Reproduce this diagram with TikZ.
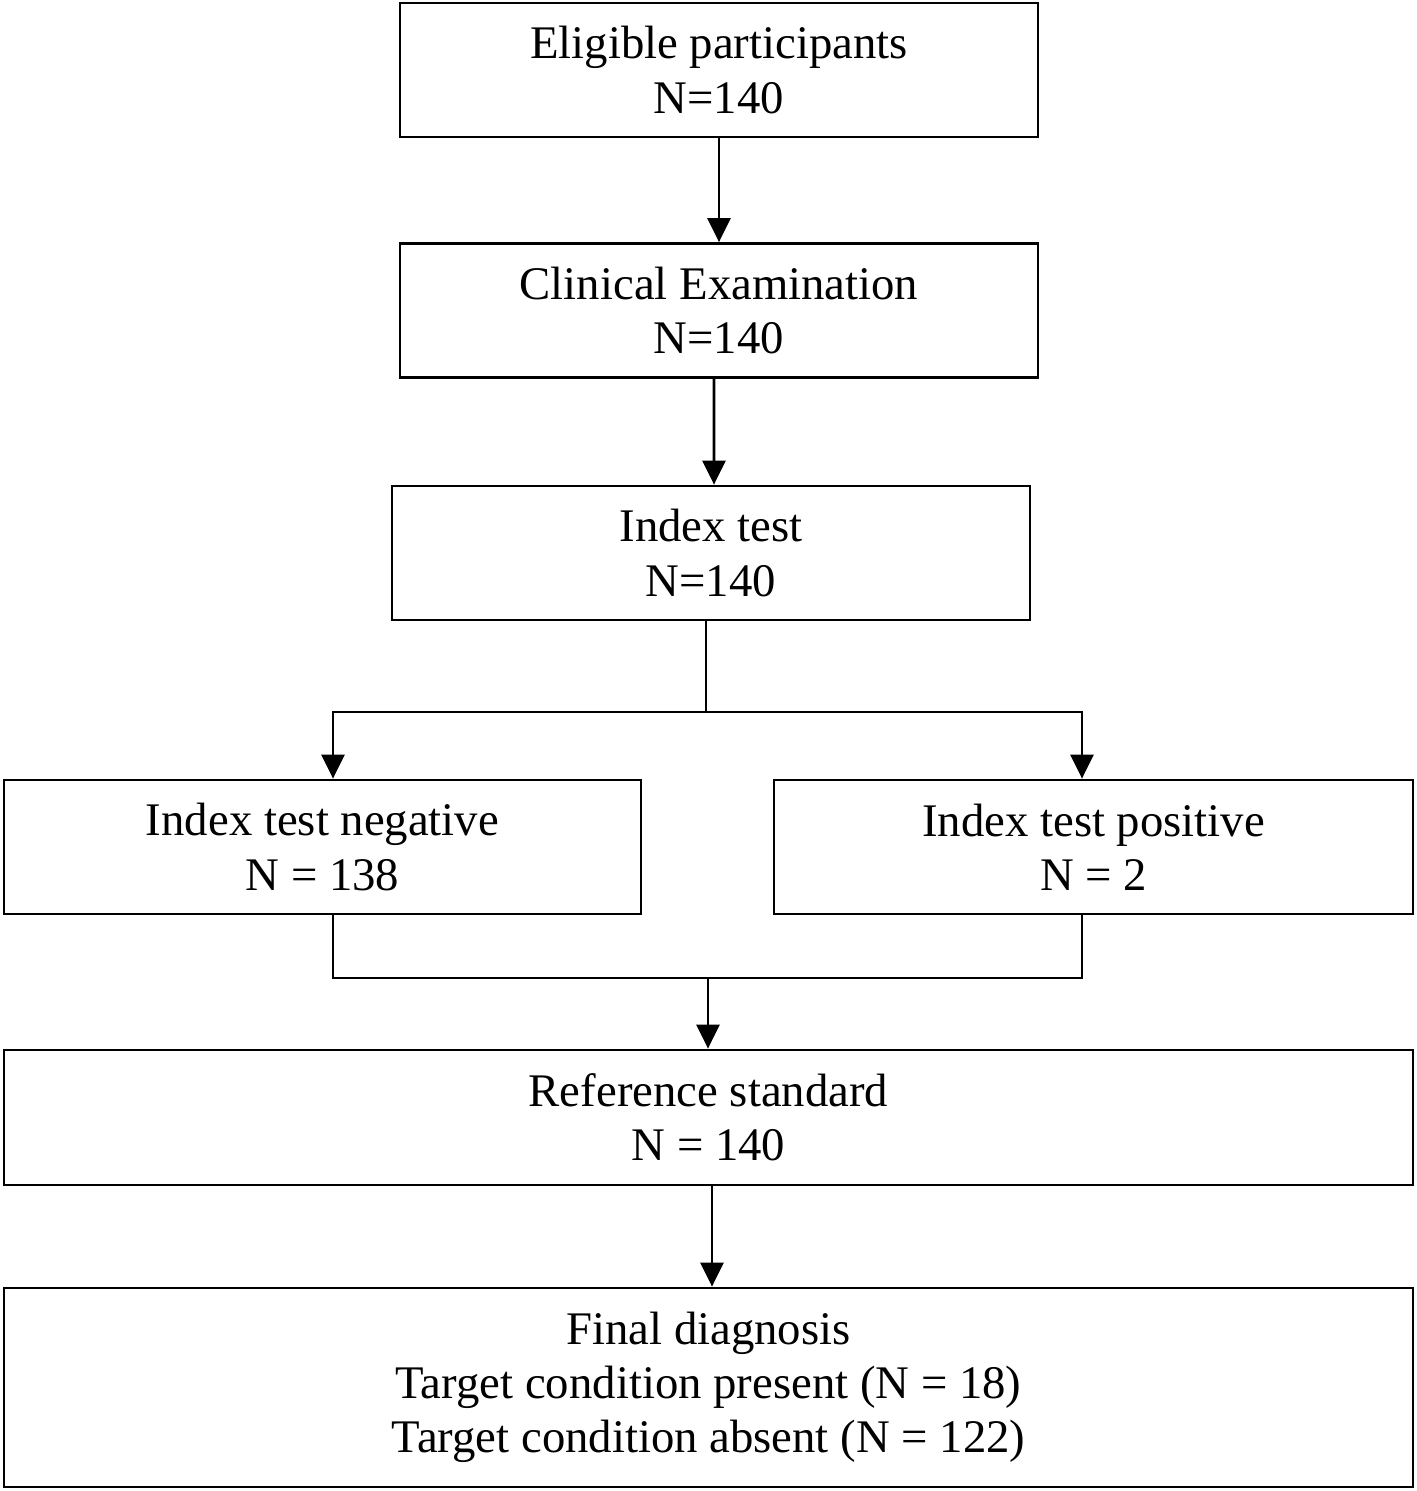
\documentclass[tikz,border=0pt]{standalone}
\usepackage{fontspec}
\setmainfont{Liberation Serif}
\usepackage{tikz}
\usetikzlibrary{calc}
\usetikzlibrary{arrows.meta}

\begin{document}
\begin{tikzpicture}[
    box/.style={draw, line width=0.8pt, align=center, inner sep=0pt,
        minimum width=6.38cm, minimum height=1.34cm,
        font=\fontsize{13.3}{15.4}\selectfont},
    widebox/.style={box, minimum width=14.09cm},
    line/.style={line width=0.8pt},
    arr/.style={line, -{Triangle[width=0.23cm,length=0.24cm]}}
    ]
    \useasboundingbox (0,0) rectangle (14.16,-14.91);

    \node[box] (elig) at (7.19,-0.70) {Eligible participants\\N=140};

    \node[box] (clin) at (7.19,-3.105) {Clinical Examination\\N=140};

    \node[box] (index) at (7.11,-5.53) {Index test\\N=140};

    \node[box, minimum width=6.37cm] (neg) at (3.225,-8.47) {Index test negative\\N = 138};

    \node[box, minimum width=6.39cm] (pos) at (10.935,-8.47) {Index test positive\\N = 2};

    \node[widebox, minimum height=1.35cm] (ref) at (7.085,-11.175) {Reference standard\\N = 140};

    \node[widebox, minimum height=1.99cm] (final) at (7.085,-13.875)
        {Final diagnosis\\Target condition present (N = 18)\\Target condition absent (N = 122)};

    \coordinate (split) at (7.06,-7.12);
    \coordinate (merge) at (7.08,-9.78);

    \draw[arr] (elig) -- (clin);
    \draw[arr] ([xshift=-0.5mm]clin.south) -- ([xshift=0.3mm]index.north);

    \draw[line] (index.south -| split) -- (split);
    \draw[arr] (split) -| ([xshift=1.05mm]neg.north);
    \draw[arr] (split) -| ([xshift=-1.15mm]pos.north);

    \draw[line] ([xshift=1.05mm]neg.south) |- (merge);
    \draw[line] ([xshift=-1.15mm]pos.south) |- (merge);
    \draw[arr] (merge) -- (merge |- ref.north);

    \draw[arr] ([xshift=0.35mm]ref.south) -- ([xshift=0.35mm]final.north);

\end{tikzpicture}
\end{document}
